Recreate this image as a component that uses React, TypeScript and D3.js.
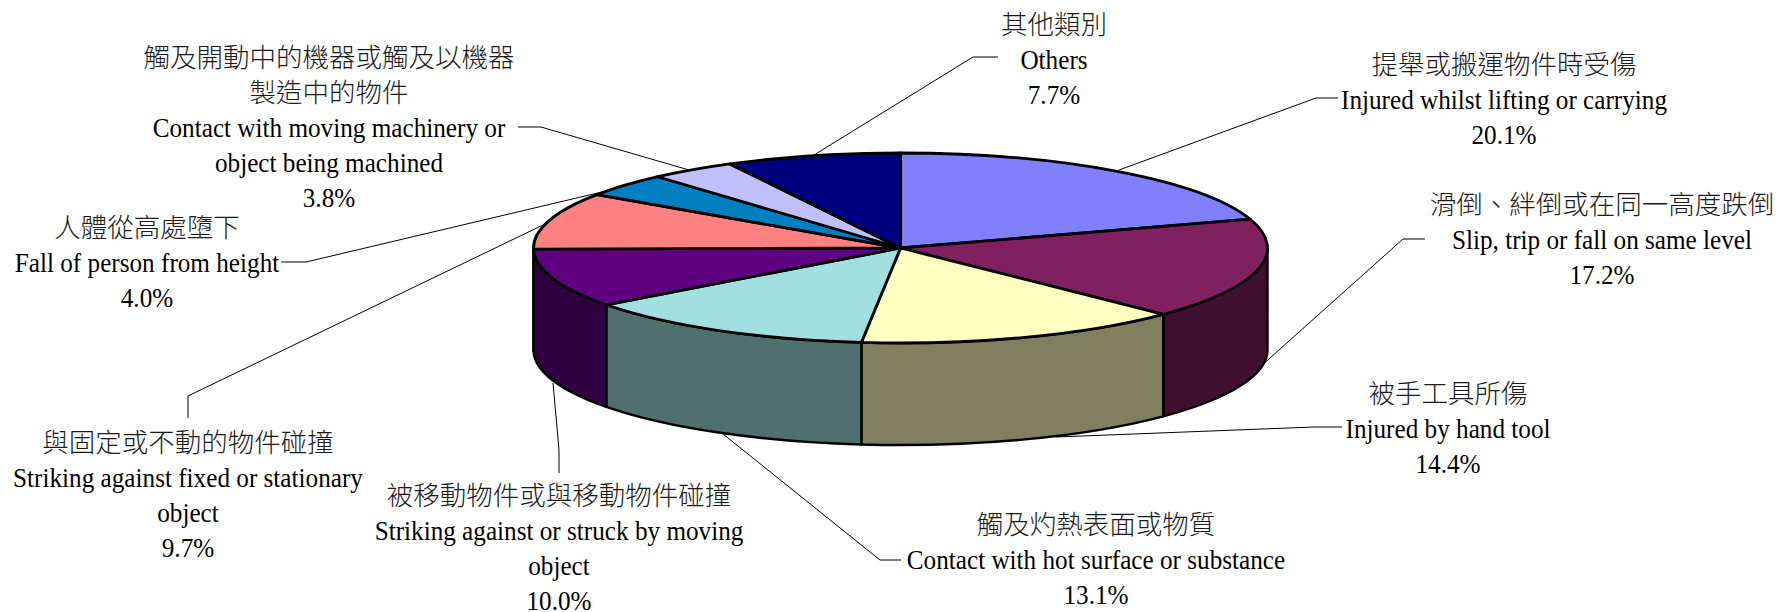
import React from "react";
import * as d3 from "d3";

const categoriesZh = ["提舉或搬運物件時受傷", "滑倒、絆倒或在同一高度跌倒", "被手工具所傷", "觸及灼熱表面或物質", "被移動物件或與移動物件碰撞", "與固定或不動的物件碰撞", "人體從高處墮下", "觸及開動中的機器或觸及以機器\n製造中的物件", "其他類別"];
const categoriesEn = ["Injured whilst lifting or carrying", "Slip, trip or fall on same level", "Injured by hand tool", "Contact with hot surface or substance", "Striking against or struck by moving\nobject", "Striking against fixed or stationary\nobject", "Fall of person from height", "Contact with moving machinery or\nobject being machined", "Others"];
const values = [20.1, 17.2, 14.4, 13.1, 10.0, 9.7, 4.0, 3.8, 7.7];
const topColors = ["#8080FF", "#802060", "#FFFFC0", "#A0E0E0", "#600080", "#FF8080", "#0080C0", "#C0C0FF", "#000080"];
const sideColors = ["#404080", "#401030", "#808060", "#507070", "#300040", "#804040", "#004060", "#606080", "#000040"];

// Layout only: block centre, first line's baseline and the leader polyline.
const labelX = [1504, 1602, 1448, 1096, 559, 188, 147, 329, 1054];
const labelY = [74, 214, 403, 534, 505, 452, 237, 67, 34];
const leaders: [number, number][][] = [
  [[1338, 98], [1316, 98], [1119, 170]],
  [[1425, 239], [1403, 239], [1260, 367]],
  [[1342, 427], [1314, 427], [1056, 437]],
  [[901, 560], [880, 560], [723, 434]],
  [[559, 473], [559, 450], [553, 383]],
  [[188, 418], [188, 396], [543, 225]],
  [[281, 262], [306, 262], [602, 192]],
  [[518, 127], [541, 127], [689, 170]],
  [[998, 57], [973, 57], [814, 155]],
];

const cx = 900.5, cy = 248, rx = 367, ry = 95, depth = 102;
const lineH = 35;
const pt = (a: number, dy = 0) => [cx + rx * Math.sin(a), cy - ry * Math.cos(a) + dy];
const arcTo = (a0: number, a1: number, dy = 0) => {
  const [x, y] = pt(a1, dy);
  return `A${rx},${ry} 0 ${a1 - a0 > Math.PI ? 1 : 0} ${a1 > a0 ? 1 : 0} ${x},${y}`;
};

const pieGen = d3.pie<number>().sort(null).startAngle(0).endAngle(2 * Math.PI);
const slices = pieGen(values);
const leaderLine = d3.line();
const LATIN = '"Liberation Serif", serif';
const CJK = '"Noto Sans CJK TC", sans-serif';

export default function App() {
  return (
    <svg width={1780} height={612} style={{ position: "absolute", left: 0, top: 0, background: "#fff" }} lang="zh-Hant">
      {leaders.map((l, i) => (
        <path key={i} d={leaderLine(l) ?? ""} fill="none" stroke="#000" strokeWidth={1} />
      ))}
      {slices.map((s, i) => {
        const a0 = Math.max(s.startAngle, Math.PI / 2);
        const a1 = Math.min(s.endAngle, 1.5 * Math.PI);
        if (a1 <= a0) return null;
        const [x0, y0] = pt(a0);
        const [x1, y1] = pt(a1, depth);
        return (
          <path key={i}
            d={`M${x0},${y0}${arcTo(a0, a1)}L${x1},${y1}${arcTo(a1, a0, depth)}Z`}
            fill={sideColors[i]} stroke="#000" strokeWidth={2.4} strokeLinejoin="round" />
        );
      })}
      {slices.map((s, i) => {
        const [x0, y0] = pt(s.startAngle);
        return (
          <path key={i}
            d={`M${cx},${cy}L${x0},${y0}${arcTo(s.startAngle, s.endAngle)}Z`}
            fill={topColors[i]} stroke="#000" strokeWidth={2.8} strokeLinejoin="round" />
        );
      })}
      <g fill="#000" textAnchor="middle">
        {values.map((v, i) => {
          const zh = categoriesZh[i].split("\n");
          const en = [...categoriesEn[i].split("\n"), `${d3.format(".1f")(v)}%`];
          return (
            <g key={i}>
              {zh.map((t, j) => (
                <text key={j} x={labelX[i]} y={labelY[i] + j * lineH} fontFamily={CJK} fontSize={26.5} fontWeight={300} fill="#1a1a1a">{t}</text>
              ))}
              {en.map((t, j) => (
                <text key={j} transform={`translate(${labelX[i]},${labelY[i] + (zh.length + j) * lineH}) scale(0.9,1)`} fontFamily={LATIN} fontSize={28}>{t}</text>
              ))}
            </g>
          );
        })}
      </g>
    </svg>
  );
}
